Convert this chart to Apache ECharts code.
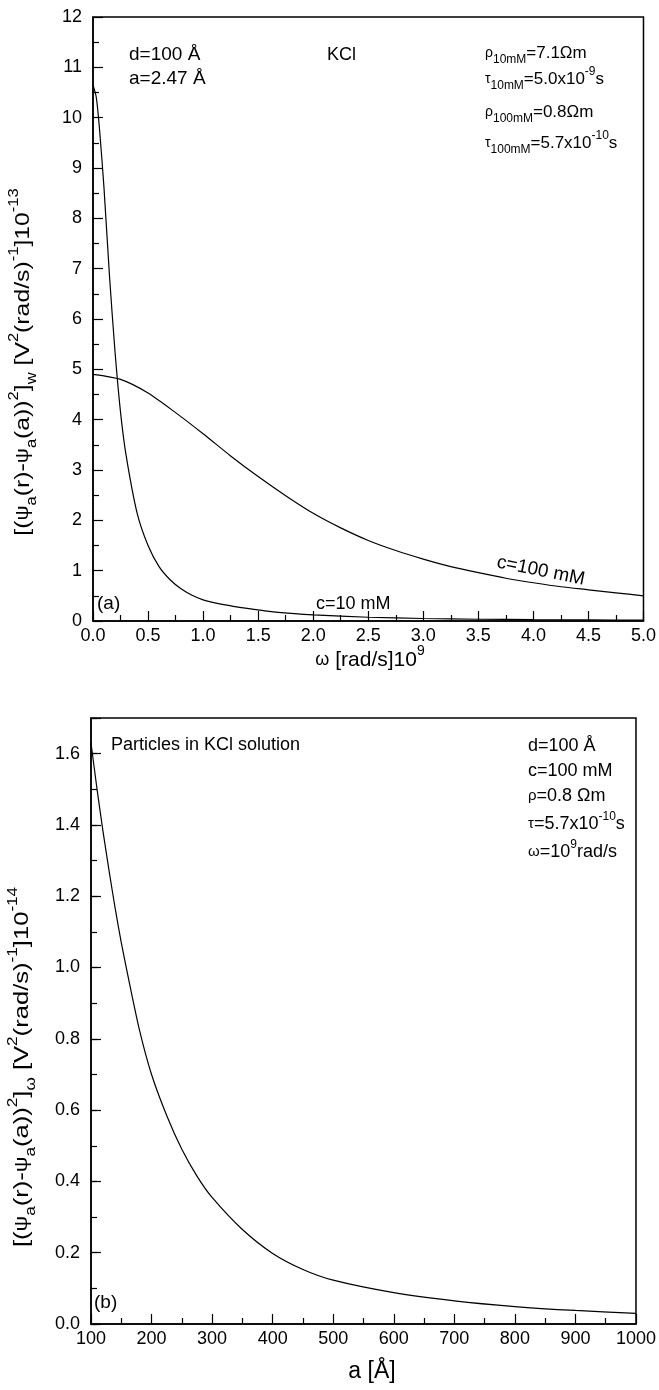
<!DOCTYPE html>
<html>
<head>
<meta charset="utf-8">
<script src="https://cdn.jsdelivr.net/npm/echarts@6/dist/echarts.min.js"></script>
<style>
  html, body { margin: 0; padding: 0; background: #fff; }
  #chart { width: 659px; height: 1390px; }
</style>
</head>
<body>
<div id="chart"></div>
<script>
// Panel (a): spectral density vs angular frequency, c = 10 mM
const omega10 = [0, 0.03, 0.06, 0.1, 0.15, 0.2, 0.25, 0.3, 0.4, 0.5, 0.6, 0.7, 0.8, 0.9, 1.0,
                 1.2, 1.4, 1.6, 1.8, 2.0, 2.5, 3.0, 3.5, 4.0, 4.5, 5.0];
const spec10 = [10.65, 10.4, 9.75, 8.6, 6.85, 5.35, 4.15, 3.3, 2.15, 1.5, 1.08, 0.82, 0.64, 0.51, 0.42,
                0.32, 0.25, 0.19, 0.15, 0.12, 0.075, 0.05, 0.035, 0.027, 0.021, 0.017];

// Panel (a): spectral density vs angular frequency, c = 100 mM
const omega100 = [0, 0.25, 0.5, 0.75, 1.0, 1.25, 1.5, 1.75, 2.0, 2.25, 2.5, 2.75, 3.0,
                  3.25, 3.5, 3.75, 4.0, 4.25, 4.5, 4.75, 5.0];
const spec100 = [4.90, 4.80, 4.53, 4.14, 3.72, 3.28, 2.87, 2.49, 2.14, 1.85, 1.60, 1.40, 1.23,
                 1.08, 0.96, 0.85, 0.76, 0.68, 0.62, 0.56, 0.50];

// Panel (b): spectral density vs particle radius
const radius = [100, 110, 120, 130, 140, 150, 160, 180, 200, 225, 250, 275, 300, 350, 400,
                450, 500, 600, 700, 800, 900, 1000];
const specRadius = [1.63, 1.50, 1.38, 1.27, 1.165, 1.07, 0.985, 0.825, 0.70, 0.585, 0.49, 0.415, 0.355,
                    0.265, 0.198, 0.153, 0.123, 0.088, 0.065, 0.049, 0.038, 0.030];

const FONT = '"Liberation Sans", Arial, Helvetica, sans-serif';
const INK = '#000';
const TICK_FONT = 18;

const pairs = (xs, ys) => xs.map((x, i) => [x, ys[i]]);

// rich-text token styles: n = normal, g = greek, sb = subscript, sp = superscript
function richSet(main, small, lh) {
  return {
    n:  { fontSize: main, fontFamily: FONT, fill: INK, lineHeight: lh },
    g:  { fontSize: Math.round(main * 0.85), fontFamily: FONT, fill: INK, lineHeight: lh },
    sb: { fontSize: small, fontFamily: FONT, fill: INK, lineHeight: small, verticalAlign: 'bottom' },
    sp: { fontSize: small, fontFamily: FONT, fill: INK, lineHeight: small, verticalAlign: 'top' }
  };
}

function label(x, y, text, main, small, extra) {
  const o = extra || {};
  const el = {
    type: 'text',
    x: x, y: y,
    z: 100,
    style: {
      text: text,
      x: 0, y: 0,
      align: o.align || 'left',
      verticalAlign: 'middle',
      fill: INK,
      fontSize: main,
      fontFamily: FONT,
      rich: richSet(main, small, Math.round(main * 1.5))
    }
  };
  if (o.rotation) el.rotation = o.rotation;
  if (o.scaleX) el.scaleX = o.scaleX;
  return el;
}

const axisLine = { show: true, onZero: false, lineStyle: { color: INK, width: 1.5 } };
const tickStyle = { color: INK, width: 1.2 };

function xAxisCfg(grid, min, max, interval, fmt) {
  return {
    type: 'value', gridIndex: grid, min: min, max: max, interval: interval,
    axisLine: axisLine,
    axisTick: { show: true, inside: true, length: 10, lineStyle: tickStyle },
    minorTick: { show: true, splitNumber: 2, length: 6, lineStyle: tickStyle },
    splitLine: { show: false }, minorSplitLine: { show: false },
    axisLabel: { color: INK, fontSize: TICK_FONT, fontFamily: FONT, margin: 6, formatter: fmt }
  };
}

const curveStyle = { color: INK, width: 1.2 };

const yTitleA = '{n|[(}{g|ψ}{sb|a}{n|(r)-}{g|ψ}{sb|a}{n|(a))}{sp|2}{n|]}{sb|w}' +
                '{n| [V}{sp|2}{n|(rad/s)}{sp|-1}{n|]10}{sp|-13}';
const yTitleB = '{n|[(}{g|ψ}{sb|a}{n|(r)-}{g|ψ}{sb|a}{n|(a))}{sp|2}{n|]}{sb|ω}' +
                '{n| [V}{sp|2}{n|(rad/s)}{sp|-1}{n|]10}{sp|-14}';

const option = {
  backgroundColor: '#fff',
  animation: false,
  grid: [
    { left: 93, top: 17, width: 552, height: 604, show: true, borderColor: INK, borderWidth: 1.5,
      backgroundColor: 'transparent' },
    { left: 91, top: 718, width: 552, height: 606, show: true, borderColor: INK, borderWidth: 1.5,
      backgroundColor: 'transparent' }
  ],
  xAxis: [
    xAxisCfg(0, 0, 5, 0.5, v => v.toFixed(1)),
    xAxisCfg(1, 100, 1000, 100, v => String(v))
  ],
  yAxis: [
    {
      type: 'value', gridIndex: 0, min: 0, max: 12, interval: 1,
      axisLine: axisLine,
      axisTick: { show: true, inside: true, length: 10, lineStyle: tickStyle },
      minorTick: { show: true, splitNumber: 2, length: 6, lineStyle: tickStyle },
      splitLine: { show: false }, minorSplitLine: { show: false },
      axisLabel: { color: INK, fontSize: TICK_FONT, fontFamily: FONT, margin: 11 }
    },
    {
      type: 'value', gridIndex: 1, min: 0, max: 1.7, interval: 0.2,
      axisLine: axisLine,
      axisTick: { show: true, inside: true, length: 10, lineStyle: tickStyle },
      splitLine: { show: false },
      axisLabel: { color: INK, fontSize: TICK_FONT, fontFamily: FONT, margin: 11,
                   formatter: v => (v > 1.65 ? '' : v.toFixed(1)) }
    },
    {
      // short ticks every 0.1 on the lower panel
      type: 'value', gridIndex: 1, min: 0, max: 1.7, interval: 0.1, position: 'left',
      axisLine: { show: false },
      axisTick: { show: true, inside: true, length: 6, lineStyle: tickStyle },
      splitLine: { show: false },
      axisLabel: { show: false }
    }
  ],
  series: [
    { type: 'line', xAxisIndex: 0, yAxisIndex: 0, data: pairs(omega10, spec10),
      showSymbol: false, smooth: 0.25, lineStyle: curveStyle },
    { type: 'line', xAxisIndex: 0, yAxisIndex: 0, data: pairs(omega100, spec100),
      showSymbol: false, smooth: 0.25, lineStyle: curveStyle },
    { type: 'line', xAxisIndex: 1, yAxisIndex: 1, data: pairs(radius, specRadius),
      showSymbol: false, smooth: 0.25, lineStyle: curveStyle }
  ],
  graphic: [
    // panel (a)
    label(129, 55, '{n|d=100 Å}', 19, 12),
    label(129, 79, '{n|a=2.47 Å}', 19, 12),
    label(327, 55, '{n|KCl}', 18, 12),
    label(485, 53, '{g|ρ}{sb|10mM}{n|=7.1Ωm}', 17, 12),
    label(485, 79, '{g|τ}{sb|10mM}{n|=5.0x10}{sp|-9}{n|s}', 17, 12),
    label(485, 112, '{g|ρ}{sb|100mM}{n|=0.8Ωm}', 17, 12),
    label(485, 143, '{g|τ}{sb|100mM}{n|=5.7x10}{sp|-10}{n|s}', 17, 12),
    label(97, 604, '{n|(a)}', 19, 12),
    label(316, 604, '{n|c=10 mM}', 18, 12),
    label(497, 562, '{n|c=100 mM}', 19, 12, { rotation: -0.2 }),
    label(370, 660, '{g|ω}{n| [rad/s]10}{sp|9}', 21, 14, { align: 'center' }),
    label(23, 362, yTitleA, 21, 14, { align: 'center', rotation: Math.PI / 2, scaleX: 1.18 }),
    // panel (b)
    label(111, 745, '{n|Particles in KCl solution}', 18, 12),
    label(528, 746, '{n|d=100 Å}', 18, 12),
    label(528, 771, '{n|c=100 mM}', 18, 12),
    label(528, 796, '{g|ρ}{n|=0.8 Ωm}', 18, 12),
    label(528, 824, '{g|τ}{n|=5.7x10}{sp|-10}{n|s}', 18, 12),
    label(528, 852, '{g|ω}{n|=10}{sp|9}{n|rad/s}', 18, 12),
    label(94, 1303, '{n|(b)}', 19, 12),
    label(372, 1372, '{n|a [Å]}', 23, 14, { align: 'center' }),
    label(22, 1067, yTitleB, 21, 14, { align: 'center', rotation: Math.PI / 2, scaleX: 1.22 })
  ]
};

const chart = echarts.init(document.getElementById('chart'), null, { renderer: 'canvas' });
chart.setOption(option);
</script>
</body>
</html>
